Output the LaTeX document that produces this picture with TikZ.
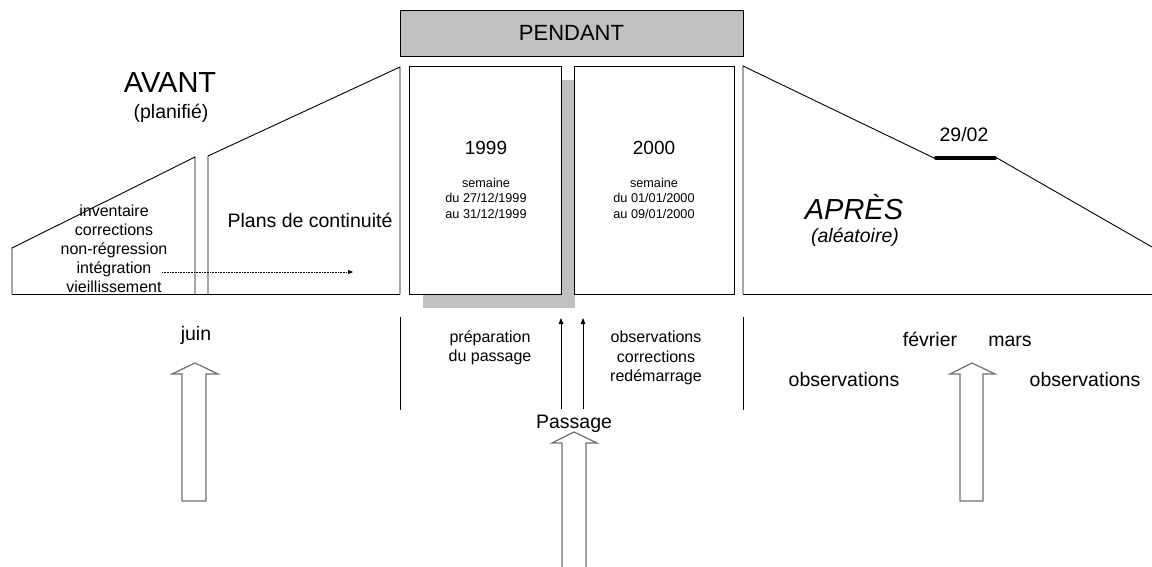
\documentclass[tikz,border=0pt]{standalone}
\usepackage{fontspec}
\setmainfont{Liberation Sans}
\usetikzlibrary{arrows.meta}
\definecolor{greyfill}{HTML}{C0C0C0}
\definecolor{hollowline}{HTML}{707070}
\begin{document}
\begin{tikzpicture}[x=1pt,y=-1pt,
  outl/.style={draw=black,line width=0.9pt},
  hollow/.style={draw=hollowline,line width=1.2pt,fill=white,line join=miter},
  lbl/.style={inner sep=0pt,align=center,text=black},
  big/.style={lbl,font=\fontsize{29}{33}\selectfont},
  med/.style={lbl,font=\fontsize{19.5}{22}\selectfont},
  sml/.style={lbl,font=\fontsize{16}{19}\selectfont},
  tny/.style={lbl,font=\fontsize{12.7}{15.5}\selectfont},
  thinarrow/.style={draw=black,line width=0.8pt,-{Triangle[length=6pt,width=4.5pt]}},
  dotarrow/.style={draw=black,line width=0.6pt,densely dotted,-{Triangle[length=5pt,width=4pt]}}
]
\useasboundingbox (0,0) rectangle (1152,567);
\fill[white] (0,0) rectangle (1152,567);

% AVANT shapes
\draw[outl] (12,294) -- (12,248) -- (195,157) -- (195,294);
\draw[outl] (208,294) -- (208,156) -- (400,67) -- (400,294);
\draw[outl] (12,294) -- (400,294);

% PENDANT header
\node[draw=black,line width=0.9pt,fill=greyfill,minimum width=343pt,minimum height=46pt,inner sep=0pt] (pendantbox) at (571.5,33) {};
\node[lbl,font=\fontsize{22}{26}\selectfont] (pendant) at (571.5,33) {PENDANT};

% shadow and year boxes
\fill[greyfill] (423,80) rectangle (575,308);
\draw[outl,fill=white] (409,66) rectangle (561,294);
\draw[outl,fill=white] (574,66) rectangle (734,294);

% APRES shape
\draw[outl] (743,294) -- (743,66) -- (934,158);
\draw[black,line width=4pt,line cap=round] (936,158) -- (995,158);
\draw[outl] (997,158) -- (1152,247);
\draw[outl] (743,294) -- (1152,294);

% texts top
\node[big] (avant) at (170,83) {AVANT};
\node[med] (planifie) at (171,113) {(planifié)};
\node[sml] (liste) at (114,249) {inventaire\\corrections\\non-régression\\intégration\\vieillissement};
\node[med] (plans) at (310,220) {Plans de continuité};
\node[lbl,font=\fontsize{19}{22}\selectfont] (y1999) at (486,148) {1999};
\node[tny] (s1999) at (486,198) {semaine\\du 27/12/1999\\au 31/12/1999};
\node[lbl,font=\fontsize{19}{22}\selectfont] (y2000) at (654,148) {2000};
\node[tny] (s2000) at (654,198) {semaine\\du 01/01/2000\\au 09/01/2000};
\node[med] (date) at (964,135) {29/02};
\node[big,font=\fontsize{29}{33}\selectfont\itshape] (apres) at (854,207) {APRÈS};
\node[med,font=\fontsize{19.5}{22}\selectfont\itshape] (aleatoire) at (855,237) {(aléatoire)};

% dotted arrow
\coordinate (dotS) at (162,272);
\coordinate (dotE) at (353,272);
\draw[dotarrow] (dotS) -- (dotE);

% dividers
\draw[outl] (400,317) -- (400,410);
\draw[outl] (743,317) -- (743,410);

% bottom texts
\node[med] (juin) at (196,335) {juin};
\node[sml] (prep) at (490,348) {préparation\\du passage};
\node[sml,font=\fontsize{16}{19.5}\selectfont] (obs) at (656,358) {observations\\corrections\\redémarrage};
\node[med] (passage) at (574,424) {Passage};
\node[med,anchor=base] (fevrier) at (930,346) {février};
\node[med,anchor=base] (mars) at (1010,346) {mars};
\node[med] (obsL) at (844,380) {observations};
\node[med] (obsR) at (1085,380) {observations};

% thin arrows from Passage
\coordinate (a1s) at (561,409);
\coordinate (a1e) at (561,318);
\coordinate (a2s) at (583,409);
\coordinate (a2e) at (583,318);
\draw[thinarrow] (a1s) -- (a1e);
\draw[thinarrow] (a2s) -- (a2e);

% hollow arrows
\draw[hollow] (182,501) -- (182,374) -- (172,374) -- (195,363) -- (218,374) -- (206,374) -- (206,501) -- cycle;
\draw[hollow] (960,501) -- (960,374) -- (950,374) -- (972,363) -- (995,374) -- (983,374) -- (983,501) -- cycle;
\draw[hollow] (562,568) -- (562,443) -- (552,443) -- (574,432) -- (597,443) -- (586,443) -- (586,568);
\end{tikzpicture}
\end{document}
